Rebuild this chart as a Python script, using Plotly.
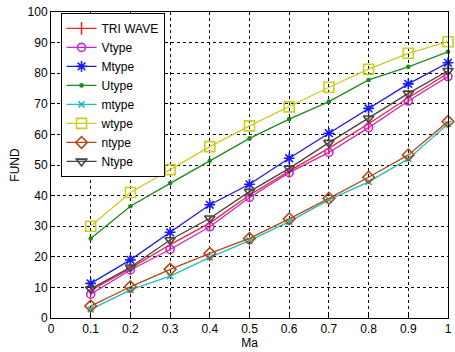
import plotly.graph_objects as go

ma = [0.1, 0.2, 0.3, 0.4, 0.5, 0.6, 0.7, 0.8, 0.9, 1.0]

tri_wave = [9.0, 16.2, 24.0, 31.0, 40.2, 48.0, 55.5, 63.5, 72.0, 80.0]
v_type = [7.8, 15.7, 22.4, 29.8, 39.4, 47.5, 54.1, 62.2, 70.9, 78.9]
m_type_big = [11.3, 19.0, 28.0, 37.0, 43.7, 52.2, 60.4, 68.5, 76.5, 83.4]
u_type = [26.0, 36.5, 44.0, 51.4, 58.7, 65.0, 70.7, 77.8, 82.1, 87.0]
m_type_small = [2.8, 9.2, 13.7, 19.8, 25.3, 31.5, 38.6, 44.5, 52.0, 63.4]
w_type = [30.0, 41.0, 48.5, 56.0, 62.8, 69.0, 75.4, 81.3, 86.5, 90.3]
n_type_small = [3.9, 10.2, 15.9, 21.1, 26.0, 32.4, 39.1, 46.0, 53.3, 64.2]
n_type_big = [9.5, 16.6, 25.5, 32.6, 41.3, 48.9, 57.3, 65.3, 73.4, 80.8]

series = [
    ("TRI WAVE", tri_wave, "#e8282a", "line-ns-open", 9),
    ("Vtype", v_type, "#cc22cc", "circle-open", 8),
    ("Mtype", m_type_big, "#1a1aee", "asterisk-open", 9),
    ("Utype", u_type, "#1a8a1a", "circle", 3),
    ("mtype", m_type_small, "#22bbbb", "x-thin-open", 6),
    ("wtype", w_type, "#cccc22", "square-open", 10),
    ("ntype", n_type_small, "#b04a18", "diamond-open", 9),
    ("Ntype", n_type_big, "#444444", "triangle-down-open", 9),
]

x_ticks = [0, 0.1, 0.2, 0.3, 0.4, 0.5, 0.6, 0.7, 0.8, 0.9, 1]
x_labels = ["0", "0.1", "0.2", "0.3", "0.4", "0.5", "0.6", "0.7", "0.8", "0.9", "1"]
y_ticks = [0, 10, 20, 30, 40, 50, 60, 70, 80, 90, 100]

fig = go.Figure()
for name, vals, color, sym, size in series:
    fig.add_trace(go.Scatter(
        x=ma, y=vals, name=name, mode="lines+markers",
        line=dict(color=color, width=1.3),
        marker=dict(symbol=sym, size=size, color=color,
                    line=dict(color=color, width=1.6)),
        cliponaxis=False,
    ))

axis_common = dict(
    showline=True, linecolor="black", linewidth=1, mirror=True,
    showgrid=True, gridcolor="black", griddash="dot", gridwidth=1,
    ticks="inside", ticklen=4, tickcolor="black",
    zeroline=False, ticklabeloverflow="allow",
    tickfont=dict(family="Arial, Liberation Sans", size=12, color="black"),
)

fig.update_layout(
    width=455, height=352,
    margin=dict(l=51, r=3, t=12, b=34),
    paper_bgcolor="white", plot_bgcolor="white",
    font=dict(family="Arial, Liberation Sans", size=11, color="black"),
    xaxis=dict(range=[0, 1], tickvals=x_ticks, ticktext=x_labels,
               title=dict(text="Ma", standoff=0, font=dict(size=12)), **axis_common),
    yaxis=dict(range=[0, 100], tickvals=y_ticks,
               title=dict(text="FUND", standoff=5, font=dict(size=12)), **axis_common),
    legend=dict(x=0.024, y=0.997, xanchor="left", yanchor="top",
                bgcolor="white", bordercolor="black", borderwidth=1,
                font=dict(size=12), tracegroupgap=0, itemwidth=30),
    showlegend=True,
)

fig.write_html("out.html", config={"displayModeBar": False},
               post_script="document.body.style.margin='0';")
